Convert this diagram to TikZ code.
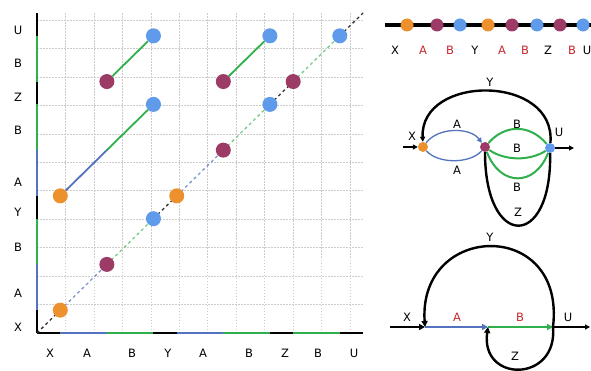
\documentclass[tikz,border=0pt]{standalone}
\usepackage{fontspec}
\setmainfont{DejaVu Sans}
\usetikzlibrary{arrows.meta}
\definecolor{cOr}{HTML}{EC912D}
\definecolor{cMg}{HTML}{9C3B66}
\definecolor{cBl}{HTML}{5F9BEA}
\definecolor{cA}{HTML}{5373BF}
\definecolor{cB}{HTML}{2FB04C}
\definecolor{cR}{HTML}{C8262C}
\pgfdeclarelayer{bg}
\pgfdeclarelayer{paper}
\pgfsetlayers{paper,bg,main}
\tikzset{
  lbl/.style={font=\fontsize{11.5}{13}\selectfont, inner sep=0pt},
  pdot/.style={circle, inner sep=0pt, minimum size=15pt},
  sdot/.style={circle, inner sep=0pt, minimum size=13pt},
  gdot/.style={circle, inner sep=0pt, minimum size=10pt},
  axseg/.style={line width=1.8pt},
  diag/.style={line width=1.3pt, dash pattern=on 3pt off 3pt},
  gridl/.style={gray!40, line width=0.5pt, dash pattern=on 1.5pt off 1.5pt},
  thk/.style={line width=2.4pt},
  arr/.style={-{Triangle[length=6pt,width=6pt]}},
  sarr/.style={-{Triangle[length=5pt,width=5pt]}}
}
\begin{document}
\begin{tikzpicture}[x=1pt,y=-1pt]
\begin{pgfonlayer}{paper}
\fill[white] (0,0) rectangle (591,371);
\end{pgfonlayer}
\useasboundingbox (0,0) rectangle (591,371);
% ---------- plot ----------
\begin{scope}[shift={(37pt,-333pt)}, x=23.29pt, y=22.86pt]
  \begin{pgfonlayer}{bg}
    \draw[gridl] (0,0) grid (14,14);
    \foreach \a/\b/\c in {0/1/black,1/3/cA,3/5/cB,5/6/black,6/8/cA,8/10/cB,10/11/black,11/13/cB,13/14/black}{
      \draw[axseg,\c] (\a,0) -- (\b,0);
      \draw[axseg,\c] (0,\a) -- (0,\b);
    }
    \foreach \a/\b/\c in {0/1/black!80,1/3/cA!75,3/5/cB!65,5/6/black!80,6/8/cA!75,8/10/cB!65,10/11/black!80,11/13/cB!65,13/14/black!80}{
      \draw[diag,\c] (\a,\a) -- (\b,\b);
    }
  \end{pgfonlayer}
  \node[pdot,fill=cOr] (p11) at (1,1) {};
  \node[pdot,fill=cMg] (p33) at (3,3) {};
  \node[pdot,fill=cBl] (p55) at (5,5) {};
  \node[pdot,fill=cOr] (p66) at (6,6) {};
  \node[pdot,fill=cMg] (p88) at (8,8) {};
  \node[pdot,fill=cBl] (p1010) at (10,10) {};
  \node[pdot,fill=cMg] (p1111) at (11,11) {};
  \node[pdot,fill=cBl] (p1313) at (13,13) {};
  \node[pdot,fill=cOr] (p16) at (1,6) {};
  \node[pdot,fill=cBl] (p510) at (5,10) {};
  \node[pdot,fill=cMg] (p311) at (3,11) {};
  \node[pdot,fill=cBl] (p513) at (5,13) {};
  \node[pdot,fill=cMg] (p811) at (8,11) {};
  \node[pdot,fill=cBl] (p1013) at (10,13) {};
  \coordinate (k38) at (3,8);
  \draw[axseg,cA] (p16) -- (k38);
  \draw[axseg,cB] (k38) -- (p510);
  \draw[axseg,cB] (p311) -- (p513);
  \draw[axseg,cB] (p811) -- (p1013);
\end{scope}
% axis labels
\foreach \t/\x in {X/50,A/87,B/132,Y/168,A/203,B/249,Z/285,B/318,U/354}{
  \node[lbl] (xl\x) at (\x,353) {\t};
}
\foreach \t/\y in {X/327,A/293,B/247,Y/212,A/182,B/130,Z/97,B/63,U/30}{
  \node[lbl] (yl\y) at (18,\y) {\t};
}
% ---------- top strip ----------
\coordinate (s0) at (385,25);
\coordinate (s1) at (595,25);
\begin{pgfonlayer}{bg}
  \draw[line width=3.2pt] (s0) -- (s1);
\end{pgfonlayer}
\foreach \x/\c in {407/cOr,437/cMg,460/cBl,488/cOr,512/cMg,537/cBl,560/cMg,583/cBl}{
  \node[sdot,fill=\c] (t\x) at (\x,25) {};
}
\foreach \t/\x/\c in {X/395/black,A/423/cR,B/450/cR,Y/475/black,A/502/cR,B/525/cR,Z/548/black,B/572/cR,U/587/black}{
  \node[lbl,text=\c] (tl\x) at (\x,50) {\t};
}
% ---------- middle graph ----------
\node[gdot,fill=cOr] (nX) at (423,147) {};
\node[gdot,fill=cMg] (nM) at (485,147) {};
\node[gdot,fill=cBl] (nU) at (550,148) {};
\coordinate (inX) at (403,147);
\coordinate (outU) at (574,148);
\draw[line width=1.6pt,sarr] (inX) -- (nX);
\draw[line width=1.4pt,sarr] (nU) -- (outU);
\draw[cA,line width=1.3pt,sarr] (nX) .. controls (438,127) and (470,127) .. (nM);
\draw[cA,line width=1.3pt] (nX) .. controls (438,164) and (470,164) .. (nM);
\draw[cB,line width=2pt] (nM) .. controls (505,124) and (530,124) .. (nU);
\draw[cB,line width=2pt] (nM) .. controls (505,161) and (530,161) .. (nU);
\draw[cB,line width=2pt] (nM) .. controls (500,187) and (535,187) .. (nU);
\draw[thk,sarr] (nU) .. controls (556,74) and (420,74) .. (nX);
\draw[thk] (nU) .. controls (552,250) and (485,250) .. (nM);
\node[lbl] (mlX) at (412,136) {X};
\node[lbl] (mlU) at (559,132) {U};
\node[lbl] (mlA1) at (457,124) {A};
\node[lbl] (mlA2) at (457,170) {A};
\node[lbl] (mlB1) at (517,124) {B};
\node[lbl] (mlB2) at (517,148) {B};
\node[lbl] (mlB3) at (517,187) {B};
\node[lbl] (mlY) at (490,82) {Y};
\node[lbl] (mlZ) at (518,212) {Z};
% ---------- bottom graph ----------
\coordinate (b0) at (390,327);
\coordinate (bX) at (425,327);
\coordinate (bM) at (488,327);
\coordinate (bU) at (553,327);
\coordinate (bO) at (590,327);
\draw[thk,arr] (b0) -- (bX);
\draw[thk,cA,arr] (bX) -- (bM);
\draw[thk,cB,arr] (bM) -- (bU);
\draw[line width=1.1pt,sarr] (bU) -- (bO);
\draw[thk,arr] (bU) .. controls (566,218) and (418,222) .. (bX);
\draw[thk,arr] (bU) .. controls (558,383) and (480,383) .. (bM);
\node[lbl] (blX) at (407,317) {X};
\node[lbl,text=cR] (blA) at (457,317) {A};
\node[lbl,text=cR] (blB) at (520,317) {B};
\node[lbl] (blU) at (568,317) {U};
\node[lbl] (blY) at (490,237) {Y};
\node[lbl] (blZ) at (515,356) {Z};
\end{tikzpicture}
\end{document}
